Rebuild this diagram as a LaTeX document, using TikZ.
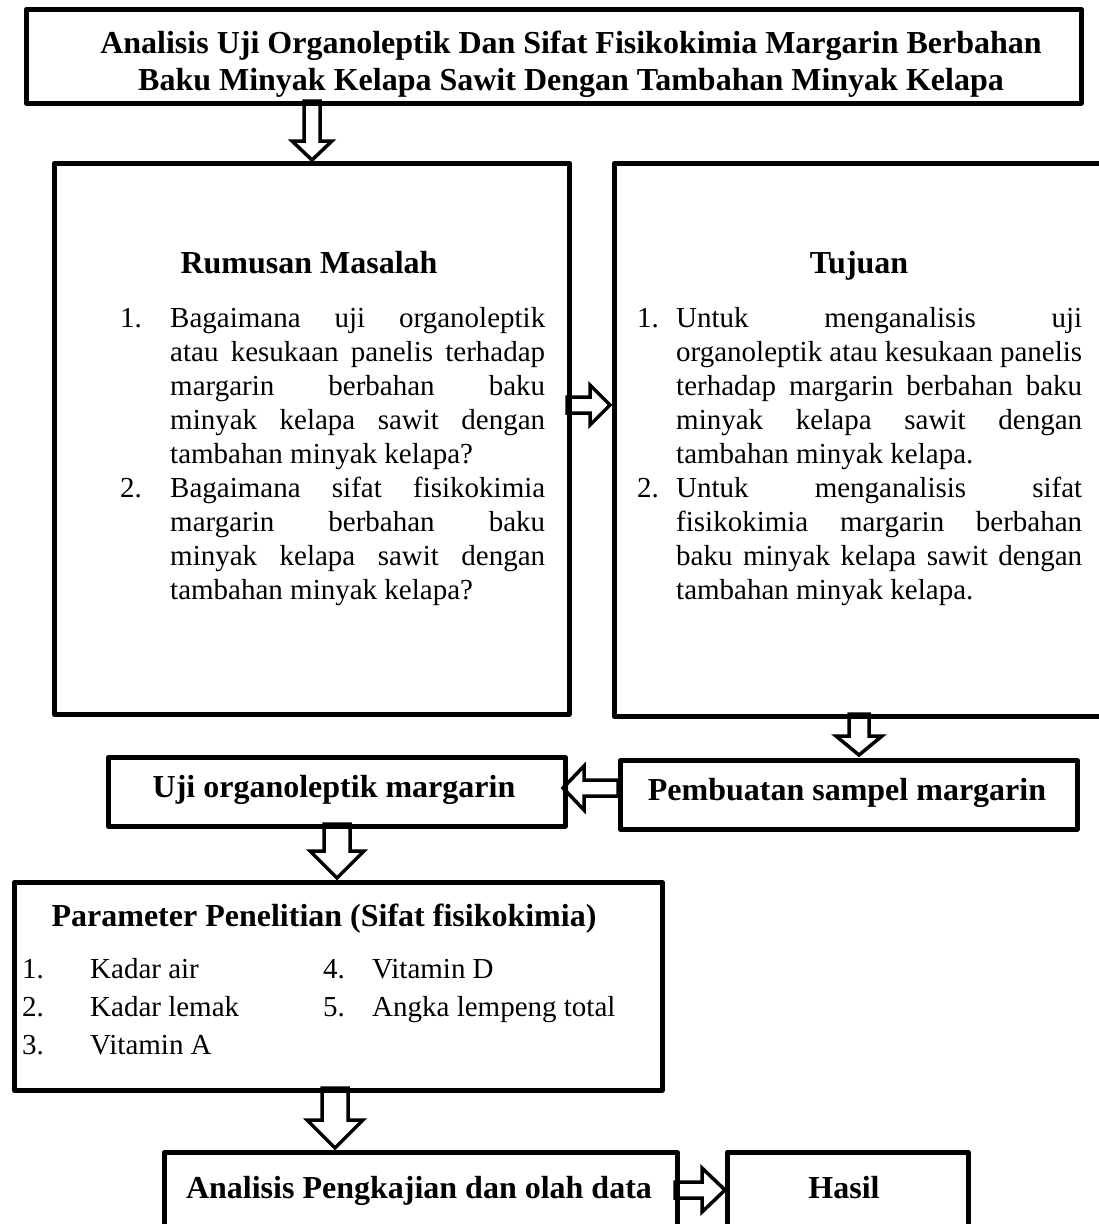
\documentclass[tikz,border=0pt]{standalone}
\usepackage{fontspec}
\setmainfont{Liberation Serif}
\usetikzlibrary{calc}
\tikzset{
  box/.style={draw, line width=4.5pt, line join=round, inner sep=0pt, anchor=north west},
  barrowstyle/.style={draw, fill=white, line width=3.5pt, line join=miter},
  hd/.style={font=\fontsize{32}{37}\selectfont\bfseries, inner sep=0pt, anchor=base},
  bd/.style={font=\fontsize{29}{34}\selectfont, inner sep=0pt, anchor=base west},
}
\newcommand\jline[2]{\makebox[#1][s]{#2}}
% start, end, shaft half width, head half width, head length
\newcommand\barrow[5]{%
  \coordinate (hb) at ($(#2)!#5!(#1)$);
  \draw[barrowstyle] ($(#1)!#3!90:(#2)$) -- ($(hb)!#3!90:(#2)$) -- ($(hb)!#4!90:(#2)$) -- (#2)
     -- ($(hb)!#4!-90:(#2)$) -- ($(hb)!#3!-90:(#2)$) -- ($(#1)!#3!-90:(#2)$) -- cycle;}
\begin{document}
\begin{tikzpicture}[x=1pt,y=-1pt]
\useasboundingbox (0,0) rectangle (1099,1224);
% arrows (drawn first)
\coordinate (a1s) at (312,101);  \coordinate (a1e) at (312,160);
\coordinate (a2s) at (567,405);  \coordinate (a2e) at (610,405);
\coordinate (a3s) at (859,714);  \coordinate (a3e) at (859,755);
\coordinate (a4s) at (618,788);  \coordinate (a4e) at (563,788);
\coordinate (a5s) at (337,824);  \coordinate (a5e) at (337,878);
\coordinate (a6s) at (335,1088); \coordinate (a6e) at (335,1148);
\coordinate (a7s) at (675,1190); \coordinate (a7e) at (725,1190);
\barrow{a1s}{a1e}{8pt}{20pt}{19pt}
\barrow{a2s}{a2e}{8pt}{20pt}{20pt}
\barrow{a3s}{a3e}{10pt}{23pt}{19pt}
\barrow{a4s}{a4e}{8pt}{22pt}{21pt}
\barrow{a5s}{a5e}{13pt}{27pt}{27pt}
\barrow{a6s}{a6e}{13pt}{28pt}{28pt}
\barrow{a7s}{a7e}{8pt}{22pt}{23pt}
% boxes
\node[box, minimum width=1055pt, minimum height=94pt] (title) at (24,7) {};
\node[box, minimum width=515pt, minimum height=551pt] (rm) at (52,161) {};
\node[box, minimum width=495pt, minimum height=553pt] (tj) at (612,161) {};
\node[box, minimum width=457pt, minimum height=69pt] (uji) at (106,755) {};
\node[box, minimum width=457pt, minimum height=69pt] (pb) at (618,758) {};
\node[box, minimum width=648pt, minimum height=208pt] (par) at (12,880) {};
\node[box, minimum width=513pt, minimum height=80pt] (an) at (162,1150) {};
\node[box, minimum width=241pt, minimum height=80pt] (has) at (725,1150) {};
% title text
\node[hd] (t1) at (571,53) {Analisis Uji Organoleptik Dan Sifat Fisikokimia Margarin Berbahan};
\node[hd] (t2) at (571,90) {Baku Minyak Kelapa Sawit Dengan Tambahan Minyak Kelapa};
% Rumusan
\node[hd] (rmh) at (309,273) {Rumusan Masalah};
\node[bd] (rn1) at (120,327) {1.};
\node[bd] (rt1) at (170,327) {\parbox[t]{375pt}{\fontsize{29}{34}\selectfont
 \jline{375pt}{Bagaimana uji organoleptik}\\
 \jline{375pt}{atau kesukaan panelis terhadap}\\
 \jline{375pt}{margarin berbahan baku}\\
 \jline{375pt}{minyak kelapa sawit dengan}\\
 tambahan minyak kelapa?}};
\node[bd] (rn2) at (120,497) {2.};
\node[bd] (rt2) at (170,497) {\parbox[t]{375pt}{\fontsize{29}{34}\selectfont
 \jline{375pt}{Bagaimana sifat fisikokimia}\\
 \jline{375pt}{margarin berbahan baku}\\
 \jline{375pt}{minyak kelapa sawit dengan}\\
 tambahan minyak kelapa?}};
% Tujuan
\node[hd] (tjh) at (859,273) {Tujuan};
\node[bd] (tn1) at (637,327) {1.};
\node[bd] (tt1) at (676,327) {\parbox[t]{406pt}{\fontsize{29}{34}\selectfont
 \jline{406pt}{Untuk menganalisis uji}\\
 \jline{406pt}{organoleptik atau kesukaan panelis}\\
 \jline{406pt}{terhadap margarin berbahan baku}\\
 \jline{406pt}{minyak kelapa sawit dengan}\\
 tambahan minyak kelapa.}};
\node[bd] (tn2) at (637,497) {2.};
\node[bd] (tt2) at (676,497) {\parbox[t]{406pt}{\fontsize{29}{34}\selectfont
 \jline{406pt}{Untuk menganalisis sifat}\\
 \jline{406pt}{fisikokimia margarin berbahan}\\
 \jline{406pt}{baku minyak kelapa sawit dengan}\\
 tambahan minyak kelapa.}};
% middle boxes text
\node[hd] (ujit) at (334,797) {Uji organoleptik margarin};
\node[hd] (pbt) at (847,800) {Pembuatan sampel margarin};
% Parameter
\node[hd] (parh) at (324,926) {Parameter Penelitian (Sifat fisikokimia)};
\node[bd] (pn1) at (22,978) {1.};  \node[bd] (pt1) at (90,978) {Kadar air};
\node[bd] (pn2) at (22,1016) {2.}; \node[bd] (pt2) at (90,1016) {Kadar lemak};
\node[bd] (pn3) at (22,1054) {3.}; \node[bd] (pt3) at (90,1054) {Vitamin A};
\node[bd] (pn4) at (323,978) {4.}; \node[bd] (pt4) at (372,978) {Vitamin D};
\node[bd] (pn5) at (323,1016) {5.}; \node[bd] (pt5) at (372,1016) {Angka lempeng total};
% bottom
\node[hd] (ant) at (419,1198) {Analisis Pengkajian dan olah data};
\node[hd] (hast) at (844,1198) {Hasil};
\end{tikzpicture}
\end{document}
